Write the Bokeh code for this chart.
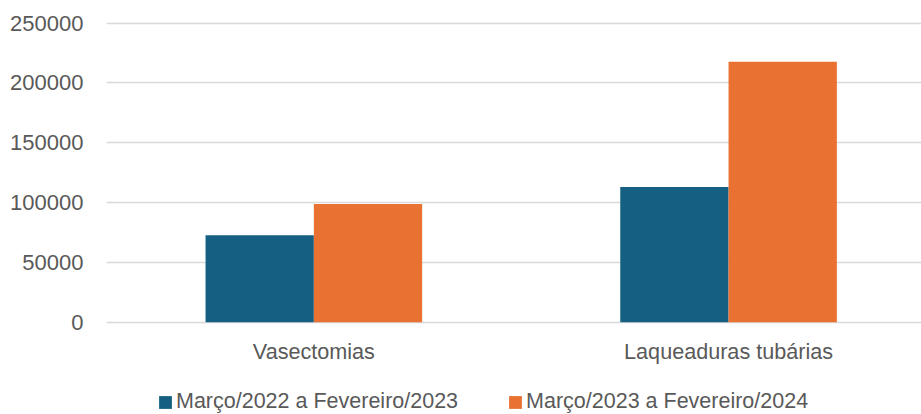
from bokeh.plotting import figure
from bokeh.models import ColumnDataSource, FixedTicker, Range1d, Legend, LegendItem
from bokeh.core.properties import value
from bokeh.transform import dodge
from bokeh.embed import file_html
from bokeh.resources import INLINE

categories = ["Vasectomias", "Laqueaduras tubárias"]
positions = [1, 2]
series_names = ["Março/2022 a Fevereiro/2023", "Março/2023 a Fevereiro/2024"]
values_2022_23 = [72800, 113100]
values_2023_24 = [98900, 217800]
y_ticks = [0, 50000, 100000, 150000, 200000, 250000]

src = ColumnDataSource(dict(x=positions, a=values_2022_23, b=values_2023_24,
                            cat=categories, base=[0] * len(positions)))

FONT = "Liberation Sans"
TXT = "#595959"

# frame covers the area below the zero line too (category labels + legend live there)
p = figure(width=921, height=414, output_backend="svg", toolbar_location=None,
           x_range=Range1d(0.5, 0.5 + 815 / 414.7), y_range=Range1d(-77100, 251400),
           x_axis_location=None)
p.min_border_left = 106
p.min_border_right = 0
p.min_border_top = 21
p.min_border_bottom = 0
p.outline_line_color = None
p.background_fill_color = "white"
p.border_fill_color = "white"

bw = 108.3 / 414.7
r1 = p.vbar(x=dodge("x", -bw / 2, range=p.x_range), top="a", width=bw, source=src,
            fill_color="#156082", line_color=None)
r2 = p.vbar(x=dodge("x", bw / 2, range=p.x_range), top="b", width=bw, source=src,
            fill_color="#E97132", line_color=None)

p.xgrid.grid_line_color = None
p.ygrid.grid_line_color = "#d9d9d9"
p.ygrid.grid_line_width = 1.3
p.ygrid.ticker = FixedTicker(ticks=y_ticks)
p.ygrid.level = "underlay"

p.yaxis.ticker = FixedTicker(ticks=y_ticks)
p.yaxis.formatter.use_scientific = False
p.yaxis.axis_line_color = None
p.yaxis.major_tick_line_color = None
p.yaxis.minor_tick_line_color = None
p.yaxis.major_tick_out = 0
p.yaxis.major_label_standoff = 23
p.yaxis.major_label_text_font = FONT
p.yaxis.major_label_text_font_size = "22px"
p.yaxis.major_label_text_color = TXT

# category labels under the zero line
p.text(x="x", y="base", text="cat", source=src, y_offset=17,
       text_align="center", text_baseline="top",
       text_font=value(FONT), text_font_size="21.6px", text_color=TXT)

legend = Legend(items=[LegendItem(label=series_names[0], renderers=[r1]),
                       LegendItem(label=series_names[1], renderers=[r2])],
                orientation="horizontal", location=(51, 0),
                border_line_color=None, background_fill_alpha=0,
                label_text_font=FONT, label_text_font_size="21.5px",
                label_text_color=TXT, glyph_width=16, glyph_height=16,
                label_standoff=3, spacing=49, padding=0, margin=0)
p.add_layout(legend, "center")

open("out.html", "w").write(file_html(p, INLINE))
